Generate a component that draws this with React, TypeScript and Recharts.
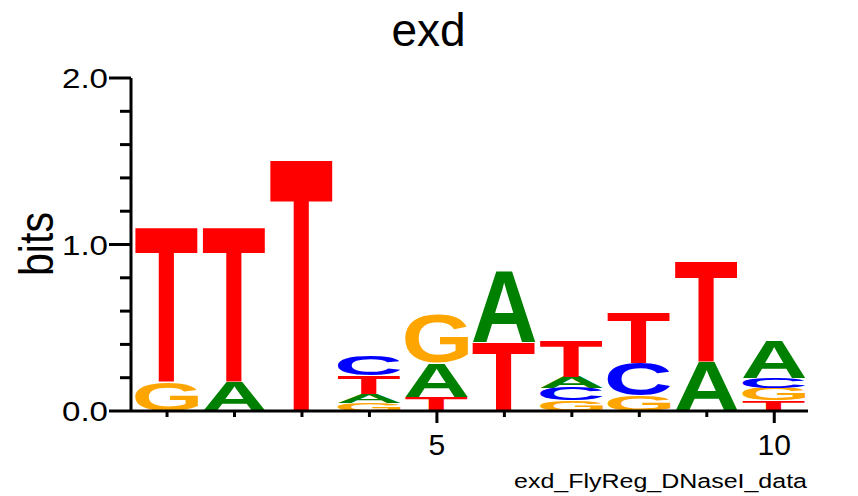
import { Bar, BarChart, XAxis, YAxis } from "recharts";

// sequence positions along the motif
const positions = [1, 2, 3, 4, 5, 6, 7, 8, 9, 10];

// letters in each column, from the bottom of the stack to the top
const stackLetters = [
  ["G", "T"],
  ["A", "T"],
  ["T"],
  ["G", "A", "T", "C"],
  ["T", "A", "G"],
  ["T", "A"],
  ["G", "C", "A", "T"],
  ["G", "C", "T"],
  ["A", "T"],
  ["T", "G", "C", "A"],
];

// height of each letter in bits, same order as stackLetters
const stackBits = [
  [0.176, 0.94],
  [0.176, 0.94],
  [1.527],
  [0.05, 0.052, 0.11, 0.114],
  [0.086, 0.204, 0.293],
  [0.416, 0.431],
  [0.062, 0.076, 0.068, 0.216],
  [0.092, 0.196, 0.301],
  [0.296, 0.611],
  [0.062, 0.076, 0.062, 0.222],
];

const yTicks = [0, 0.2, 0.4, 0.6, 0.8, 1, 1.2, 1.4, 1.6, 1.8, 2];
const yTickLabels: Record<string, string> = { "0": "0.0", "1": "1.0", "2": "2.0" };
const xLabelledTicks = [5, 10];

const letterColors: Record<string, string> = {
  A: "#008000",
  C: "#0000ff",
  G: "#ffa500",
  T: "#ff0000",
};

const SLOTS = 4;
const FONT = "'Liberation Sans', Arial, Helvetica, sans-serif";

const rows = positions.map((pos, i) => {
  const row: Record<string, number | string> = { pos };
  for (let k = 0; k < SLOTS; k++) {
    row[`h${k}`] = stackBits[i][k] ?? 0;
    row[`l${k}`] = stackLetters[i][k] ?? "";
  }
  return row;
});

type Box = { l: number; r: number; a: number; d: number };
const boxCache: Record<string, Box> = {};

// ink box of a glyph at 100px, so it can be stretched to fill its rect
function glyphBox(ch: string): Box {
  if (boxCache[ch]) return boxCache[ch];
  let box: Box = { l: -4, r: 70, a: 72, d: 0 };
  try {
    const ctx = document.createElement("canvas").getContext("2d");
    if (ctx) {
      ctx.font = `bold 100px ${FONT}`;
      const m = ctx.measureText(ch);
      box = {
        l: m.actualBoundingBoxLeft,
        r: m.actualBoundingBoxRight,
        a: m.actualBoundingBoxAscent,
        d: m.actualBoundingBoxDescent,
      };
    }
  } catch {
    // keep fallback
  }
  boxCache[ch] = box;
  return box;
}

function letterShape(slot: number) {
  return (props: any) => {
    const { x, y, width, height, payload } = props;
    const ch = payload?.[`l${slot}`];
    if (!ch || !(height > 0)) return <g />;
    const b = glyphBox(ch);
    const sx = width / (b.l + b.r);
    const sy = height / (b.a + b.d);
    return (
      <text
        x={0}
        y={0}
        fontSize={100}
        fontWeight="bold"
        fontFamily={FONT}
        fill={letterColors[ch]}
        transform={`translate(${x},${y}) scale(${sx},${sy}) translate(${b.l},${b.a})`}
      >
        {ch}
      </text>
    );
  };
}

function XTick(props: any) {
  const { x, y, payload } = props;
  const major = xLabelledTicks.includes(payload.value);
  return (
    <g>
      <line x1={x} x2={x} y1={y} y2={y + (major ? 12 : 6)} stroke="#000" strokeWidth={3} />
      {major && (
        <text x={x} y={y + 44} textAnchor="middle" fontSize={30} fontFamily={FONT} fill="#000">
          {payload.value}
        </text>
      )}
    </g>
  );
}

function YTick(props: any) {
  const { x, y, payload } = props;
  const label = yTickLabels[String(payload.value)];
  return (
    <g>
      <line x1={x - (label ? 22 : 11)} x2={x} y1={y} y2={y} stroke="#000" strokeWidth={3} />
      {label && (
        <text
          x={x - 23}
          y={y + 10}
          textAnchor="end"
          fontSize={28}
          fontFamily={FONT}
          fill="#000"
          textLength={46}
          lengthAdjust="spacingAndGlyphs"
        >
          {label}
        </text>
      )}
    </g>
  );
}

export default function App() {
  return (
    <div style={{ position: "absolute", left: 0, top: 0, width: 858, height: 496, background: "#fff" }}>
      <BarChart
        width={858}
        height={496}
        data={rows}
        margin={{ top: 78, right: 50, bottom: 45, left: 31 }}
        barGap={0}
      >
        <XAxis
          dataKey="pos"
          type="number"
          domain={[0.466, 10.5]}
          ticks={positions}
          interval={0}
          allowDataOverflow
          tick={<XTick />}
          tickLine={false}
          tickSize={0}
          tickMargin={0}
          height={40}
          axisLine={{ stroke: "#000", strokeWidth: 3 }}
        />
        <YAxis
          type="number"
          domain={[0, 2]}
          ticks={yTicks}
          interval={0}
          tick={<YTick />}
          tickLine={false}
          tickSize={0}
          tickMargin={0}
          width={100}
          axisLine={{ stroke: "#000", strokeWidth: 3 }}
        />
        {Array.from({ length: SLOTS }, (_, k) => (
          <Bar
            key={k}
            dataKey={`h${k}`}
            stackId="logo"
            barSize={63}
            isAnimationActive={false}
            shape={letterShape(k)}
          />
        ))}
      </BarChart>
      <svg
        width={858}
        height={496}
        style={{ position: "absolute", left: 0, top: 0, pointerEvents: "none" }}
      >
        <text x={428.5} y={46} textAnchor="middle" fontSize={46} fontFamily={FONT} fill="#000">
          exd
        </text>
        <text
          transform="translate(53,244) rotate(-90)"
          textAnchor="middle"
          fontSize={48}
          fontFamily={FONT}
          fill="#000"
          textLength={64}
          lengthAdjust="spacingAndGlyphs"
        >
          bits
        </text>
        <text
          x={514}
          y={488}
          fontSize={20}
          fontFamily={FONT}
          fill="#000"
          textLength={293}
          lengthAdjust="spacingAndGlyphs"
        >
          exd_FlyReg_DNaseI_data
        </text>
      </svg>
    </div>
  );
}
